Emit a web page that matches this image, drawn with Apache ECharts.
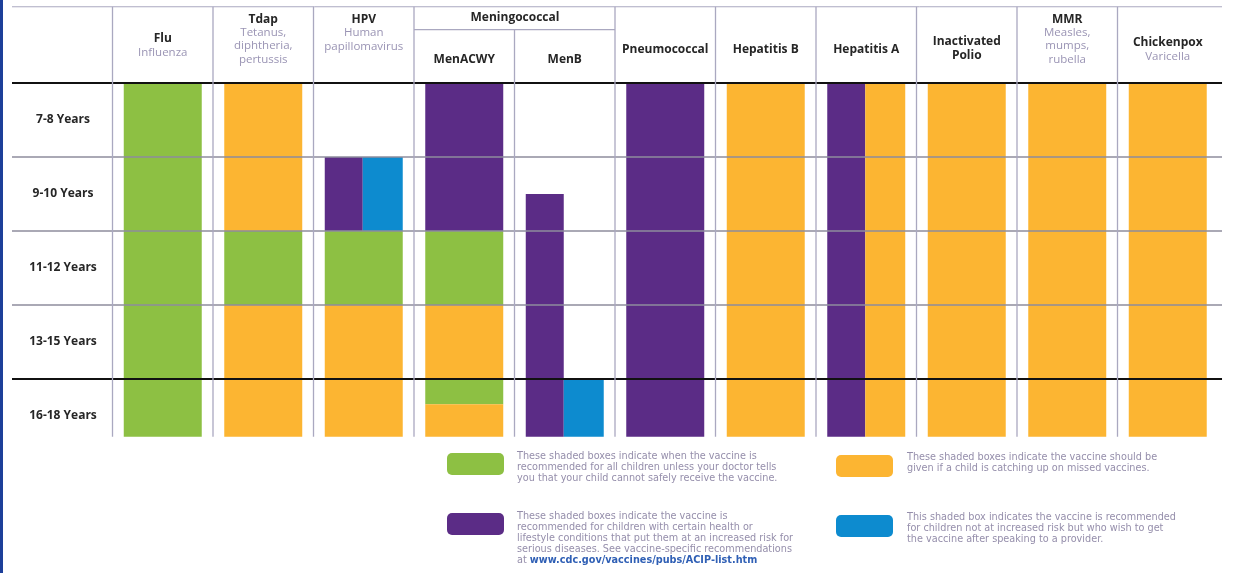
<!DOCTYPE html>
<html><head><meta charset="utf-8">
<script src="https://cdn.jsdelivr.net/npm/echarts@6/dist/echarts.min.js"></script>
<style>html,body{margin:0;padding:0;background:#fff}#c{width:1243px;height:573px}</style>
</head><body><div id="c"></div>
<script>
// ---------- data ----------
const ageGroups = ['7-8 Years', '9-10 Years', '11-12 Years', '13-15 Years', '16-18 Years'];
const vaccineNames = ['', 'Flu', 'Tdap', 'HPV', 'MenACWY', 'MenB', 'Pneumococcal', 'Hepatitis B', 'Hepatitis A', 'Inactivated\nPolio', 'MMR', 'Chickenpox'];
const vaccineSubtitles = ['', 'Influenza', 'Tetanus,\ndiphtheria,\npertussis', 'Human\npapillomavirus', '', '', '', '', '', '', 'Measles,\nmumps,\nrubella', 'Varicella'];
const groupHeader = 'Meningococcal';
const categoryKeys = ['all', 'catchup', 'risk', 'optional'];
// [column, part (0 full, 1 left half, 2 right half), rowStart, rowEnd, category]
const segments = [
  [1, 0, 0, 4.78, 'all'],
  [2, 0, 0, 2, 'catchup'], [2, 0, 2, 3, 'all'], [2, 0, 3, 4.78, 'catchup'],
  [3, 1, 1, 2, 'risk'], [3, 2, 1, 2, 'optional'], [3, 0, 2, 3, 'all'], [3, 0, 3, 4.78, 'catchup'],
  [4, 0, 0, 2, 'risk'], [4, 0, 2, 3, 'all'], [4, 0, 3, 4, 'catchup'], [4, 0, 4, 4.34, 'all'], [4, 0, 4.34, 4.78, 'catchup'],
  [5, 1, 1.5, 4.78, 'risk'], [5, 2, 4, 4.78, 'optional'],
  [6, 0, 0, 4.78, 'risk'],
  [7, 0, 0, 4.78, 'catchup'],
  [8, 1, 0, 4.78, 'risk'], [8, 2, 0, 4.78, 'catchup'],
  [9, 0, 0, 4.78, 'catchup'],
  [10, 0, 0, 4.78, 'catchup'],
  [11, 0, 0, 4.78, 'catchup']
];
const legendTexts = {
  all: 'These shaded boxes indicate when the vaccine is\nrecommended for all children unless your doctor tells\nyou that your child cannot safely receive the vaccine.',
  catchup: 'These shaded boxes indicate the vaccine should be\ngiven if a child is catching up on missed vaccines.',
  risk: 'These shaded boxes indicate the vaccine is\nrecommended for children with certain health or\nlifestyle conditions that put them at an increased risk for\nserious diseases. See vaccine-specific recommendations',
  optional: 'This shaded box indicates the vaccine is recommended\nfor children not at increased risk but who wish to get\nthe vaccine after speaking to a provider.'
};
const legendLink = 'www.cdc.gov/vaccines/pubs/ACIP-list.htm';

// ---------- style ----------
const colors = { all: '#8dc043', catchup: '#fcb532', risk: '#5b2c86', optional: '#0d8bcf' };
const headerPadBottom = [0, 7, 0, 13, 0, 0, 10, 10, 10, 4, 0, 3];
const FONT = '"Open Sans", "Noto Sans", sans-serif';
const greyRule = '#8e8d9c', lightRule = '#aaa8c0', blackRule = '#111';

// table rules: [colA, offA, rowA, colB, offB, rowB, colour, width]
const rules = [
  [0, -0.5, -1.03, 11, 0.54, -1.03, lightRule, 1],
  [0, -0.5, 0, 11, 0.54, 0, blackRule, 2.2],
  [0, -0.5, 1, 11, 0.54, 1, greyRule, 1.3],
  [0, -0.5, 2, 11, 0.54, 2, greyRule, 1.3],
  [0, -0.5, 3, 11, 0.54, 3, greyRule, 1.3],
  [0, -0.5, 4, 11, 0.54, 4, blackRule, 2.2],
  [4, -0.5, -0.72, 5, 0.5, -0.72, lightRule, 1.2]
];
for (let c = 1; c <= 11; c++) {
  rules.push([c, -0.5, c === 5 ? -0.72 : -1.03, c, -0.5, 4.78, lightRule, 1.3]);
}

const chart = echarts.init(document.getElementById('c'));

function renderBar(params, api) {
  const seg = segments[params.dataIndex];
  const col = api.value(0), part = api.value(1);
  const p0 = api.coord([col, api.value(2)]);
  const p1 = api.coord([col, api.value(3)]);
  const band = api.size([1, 0])[0];
  const bw = band * 0.776;
  let x = p0[0] - bw / 2, w = bw;
  if (part === 1) w = bw / 2 - 1;
  if (part === 2) { x = p0[0] - 1; w = bw / 2 + 1; }
  return { type: 'rect', shape: { x: x, y: p0[1], width: w, height: p1[1] - p0[1] }, style: { fill: colors[seg[4]] } };
}
function renderRule(params, api) {
  const r = rules[params.dataIndex];
  const band = api.size([1, 0])[0];
  const a = api.coord([r[0], r[2]]);
  const b = api.coord([r[3], r[5]]);
  return { type: 'line', shape: { x1: a[0] + r[1] * band, y1: a[1], x2: b[0] + r[4] * band, y2: b[1] }, style: { stroke: r[6], lineWidth: r[7] } };
}

const LFONT = '"DejaVu Sans", sans-serif';
const LSIZE = 9.7, LLH = 10.9;
const legendPos = { all: [447, 453, 517, 451], catchup: [836, 455, 907, 452], risk: [447, 513, 517, 511], optional: [836, 515, 907, 512] };
const graphics = [{ type: 'rect', x: 0, y: 0, shape: { width: 3, height: 573 }, style: { fill: '#1d3f99' } },
  { type: 'text', x: 515, y: 18, style: { text: groupHeader, font: 'bold 12px ' + FONT, fill: '#262626', align: 'center', verticalAlign: 'middle' } }];
categoryKeys.forEach(k => {
  const p = legendPos[k];
  graphics.push({ type: 'rect', x: p[0], y: p[1], shape: { width: 57, height: 22, r: 5 }, style: { fill: colors[k] } });
  const rich = { n: { fontSize: LSIZE, fontFamily: LFONT, fill: '#958eab', lineHeight: LLH }, l: { fontSize: LSIZE, fontFamily: LFONT, fill: '#2f5fb5', fontWeight: 'bold', lineHeight: LLH } };
  let t = legendTexts[k].split('\n').map(s => '{n|' + s + '}').join('\n');
  if (k === 'risk') t += '\n{n|at }{l|' + legendLink + '}';
  graphics.push({ type: 'text', x: p[2], y: p[3], style: { text: t, rich: rich, fontSize: LSIZE, fontFamily: LFONT } });
});

chart.setOption({
  animation: false,
  grid: { left: 12, right: 25, top: 83, bottom: 120, outerBoundsMode: 'none', containLabel: false },
  xAxis: {
    type: 'category', position: 'top',
    data: vaccineNames.map((v, i) => ({ value: v === '' ? ' ' : v, textStyle: { padding: [0, 0, headerPadBottom[i], 0] } })),
    axisLine: { show: false }, axisTick: { show: false }, splitLine: { show: false },
    axisLabel: {
      interval: 0, margin: 17, align: 'center',
      formatter: function (v, i) {
        const name = vaccineNames[i], sub = vaccineSubtitles[i];
        if (!name) return '';
        let s = name.split('\n').map(x => '{b|' + x + '}').join('\n');
        if (sub) s += '\n' + sub.split('\n').map(x => '{s|' + x + '}').join('\n');
        return s;
      },
      rich: {
        b: { fontFamily: FONT, fontWeight: 'bold', fontSize: 12, color: '#262626', lineHeight: 13.3, align: 'center' },
        s: { fontFamily: FONT, fontSize: 11.5, color: '#9a94b4', lineHeight: 13.3, align: 'center' }
      }
    }
  },
  yAxis: [
    { type: 'value', min: 0, max: 5, inverse: true, show: false },
    { type: 'category', data: ageGroups, inverse: true, position: 'left',
      axisLine: { show: false }, axisTick: { show: false }, splitLine: { show: false },
      axisLabel: { inside: true, margin: 51, align: 'center', fontFamily: FONT, fontWeight: 'bold', fontSize: 12, color: '#262626' } }
  ],
  graphic: graphics,
  series: [
    { type: 'custom', yAxisIndex: 0, renderItem: renderBar, data: segments.map(s => s.slice(0, 4)), z: 2 },
    { type: 'custom', yAxisIndex: 0, renderItem: renderRule, clip: false, data: rules.map(r => [r[0], r[2]]), z: 3, silent: true }
  ]
});
</script></body></html>
